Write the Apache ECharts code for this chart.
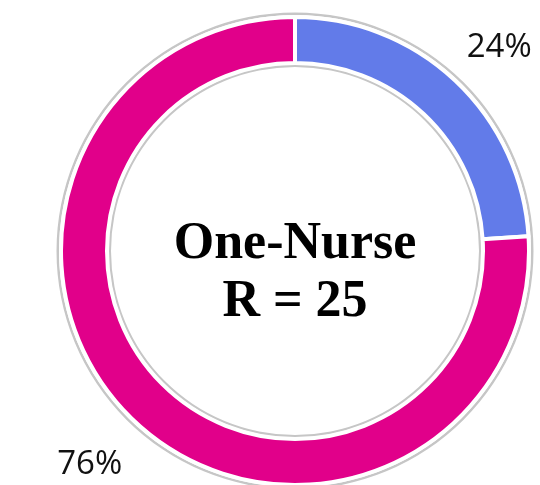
<!DOCTYPE html>
<html>
<head>
<meta charset="utf-8">
<script src="https://cdn.jsdelivr.net/npm/echarts@6/dist/echarts.min.js"></script>
<style>html,body{margin:0;padding:0;background:#fff}#c{width:540px;height:485px}</style>
</head>
<body>
<div id="c"></div>
<script>
const categories = ['Group A', 'Group B'];
const values = [24, 76];
const colors = ['#627be9', '#e1008a'];
const titleLines = ['One-Nurse', 'R = 25'];

const labelOffsets = [[3, 11], [-4, -1]];

const chart = echarts.init(document.getElementById('c'));
const center = [295, 251];
const data = categories.map((c, i) => ({ name: c, value: values[i], itemStyle: { color: colors[i] } }));
const total = values.reduce((a, b) => a + b, 0);

chart.setOption({
  animation: false,
  series: [
    {
      type: 'pie', silent: true, center, radius: [236, 238.5],
      label: { show: false }, labelLine: { show: false },
      data: [{ value: 1, itemStyle: { color: '#c6c6c6' } }]
    },
    {
      type: 'pie', silent: true, center, radius: [184, 186.5],
      label: { show: false }, labelLine: { show: false },
      data: [{ value: 1, itemStyle: { color: '#c6c6c6' } }]
    },
    {
      type: 'pie', silent: true, center, radius: [188, 234],
      startAngle: 90, clockwise: true,
      itemStyle: { borderColor: '#fff', borderWidth: 4 },
      label: { show: false }, labelLine: { show: false },
      data: data
    },
    {
      type: 'pie', silent: true, center, radius: [0, 582],
      startAngle: 90, clockwise: true,
      itemStyle: { color: 'rgba(0,0,0,0)' },
      label: {
        show: true, position: 'inside',
        formatter: p => Math.round(p.value / total * 100) + '%',
        fontFamily: 'Open Sans', fontSize: 33, color: '#111'
      },
      labelLine: { show: false },
      data: categories.map((c, i) => ({ name: c, value: values[i], label: { offset: labelOffsets[i] } }))
    }
  ],
  graphic: [{
    type: 'text', x: center[0], y: center[1] + 23,
    style: {
      text: titleLines.join('\n'),
      font: 'bold 52px "Liberation Serif"',
      lineHeight: 58,
      fill: '#000',
      align: 'center', verticalAlign: 'middle'
    }
  }]
});
</script>
</body>
</html>
